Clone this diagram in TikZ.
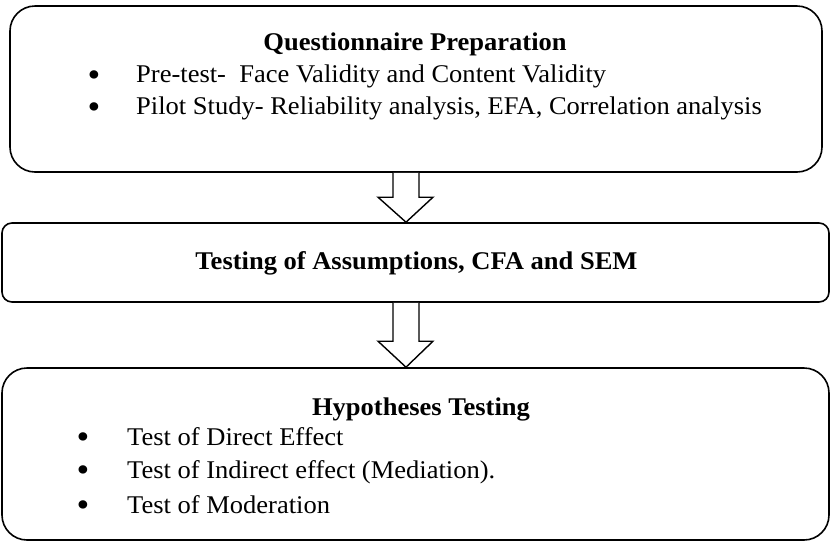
\documentclass[tikz,border=0pt]{standalone}
\usepackage{fontspec}
\setmainfont{Liberation Serif}[FakeStretch=1.04]
\usetikzlibrary{calc}
\begin{document}
\begin{tikzpicture}[x=1pt,y=-1pt,
  boxbig/.style={draw, line width=1.6pt, rounded corners=25pt, inner sep=0pt},
  boxmid/.style={draw, line width=1.6pt, rounded corners=10pt, inner sep=0pt},
  txt/.style={inner sep=0pt, font=\fontsize{25.5pt}{30pt}\selectfont},
  ttl/.style={txt, font=\fontsize{25.5pt}{30pt}\selectfont\bfseries, anchor=base},
  item/.style={txt, anchor=base west},
  bul/.style={inner sep=0pt, font=\fontsize{35pt}{40pt}\selectfont, anchor=base},
  fatarrow/.style={draw, line width=1.4pt, fill=white, line join=miter}]
\useasboundingbox (0,0) rectangle (831,542);
% boxes
\node[boxbig, minimum width=812pt, minimum height=166pt] (b1) at (416,89) {};
\node[boxmid, minimum width=827pt, minimum height=79pt] (b2) at (415.5,262.5) {};
\node[boxbig, minimum width=827pt, minimum height=172pt] (b3) at (415.5,454) {};
% texts box 1
\node[ttl] (t1) at (415,50) {Questionnaire Preparation};
\node[bul] (p1) at (94,86) {•};
\node[item] (i1) at (136,82.5) {Pre-test-\ \ Face Validity and Content Validity};
\node[bul] (p2) at (94,118) {•};
\node[item] (i2) at (136,114.5) {Pilot Study- Reliability analysis, EFA, Correlation analysis};
% text box 2
\node[ttl] (t2) at (416.5,269) {Testing of Assumptions, CFA and SEM};
% texts box 3
\node[ttl] (t3) at (421,415) {Hypotheses Testing};
\node[bul] (p3) at (83,448.5) {•};
\node[item] (i3) at (127,445) {Test of Direct Effect};
\node[bul] (p4) at (83,481.5) {•};
\node[item] (i4) at (127,478) {Test of Indirect effect (Mediation).};
\node[bul] (p5) at (83,516.5) {•};
\node[item] (i5) at (127,513) {Test of Moderation};
% arrows
\coordinate (ax) at (406,0);
\draw[fatarrow] ($(ax |- b1.south)+(-13,0)$) -- ($(ax |- b2.north)+(-13,-25)$)
  -- ($(ax |- b2.north)+(-28,-25)$) -- (ax |- b2.north)
  -- ($(ax |- b2.north)+(27,-25)$) -- ($(ax |- b2.north)+(13,-25)$)
  -- ($(ax |- b1.south)+(13,0)$);
\draw[fatarrow] ($(ax |- b2.south)+(-13,0)$) -- ($(ax |- b3.north)+(-13,-26)$)
  -- ($(ax |- b3.north)+(-28,-26)$) -- (ax |- b3.north)
  -- ($(ax |- b3.north)+(27,-26)$) -- ($(ax |- b3.north)+(13,-26)$)
  -- ($(ax |- b2.south)+(13,0)$);
\end{tikzpicture}
\end{document}
